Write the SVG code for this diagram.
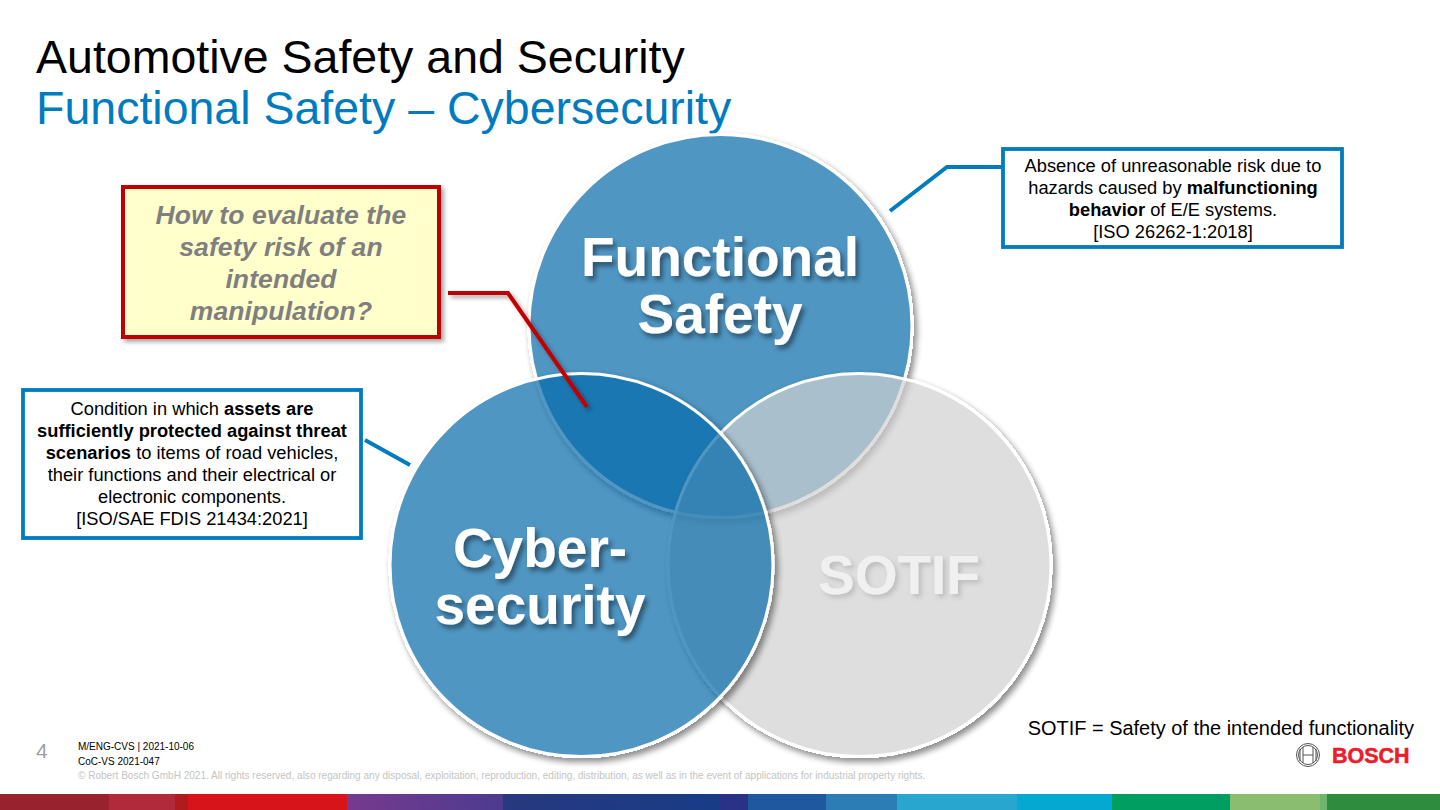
<svg xmlns="http://www.w3.org/2000/svg" width="1440" height="810" viewBox="0 0 1440 810">
<style>
text{font-family:"Liberation Sans",Arial,sans-serif}
.c{stroke:#fff;stroke-width:3;filter:url(#s)}
.big{font-size:55px;font-weight:700;fill:#fff;text-anchor:middle;filter:url(#ts)}
.box{fill:#fff;stroke:#007bc0;stroke-width:3.8}
.t{font-size:18.3px;fill:#000;text-anchor:middle}
.q{font-size:26.5px;font-weight:700;font-style:italic;fill:#7f7f7f;text-anchor:middle;letter-spacing:.1px}
.ft{font-size:10px;fill:#000}
</style>
<defs>
<filter id="s" x="-10%" y="-10%" width="120%" height="120%" color-interpolation-filters="sRGB">
<feComponentTransfer in="SourceAlpha" result="solid"><feFuncA type="linear" slope="100"/></feComponentTransfer>
<feGaussianBlur in="solid" stdDeviation="3" result="b"/>
<feOffset in="b" dx="3" dy="4" result="o"/>
<feComposite in="o" in2="solid" operator="out" result="outer"/>
<feComponentTransfer in="outer" result="sh"><feFuncA type="linear" slope=".45"/></feComponentTransfer>
<feMerge><feMergeNode in="sh"/><feMergeNode in="SourceGraphic"/></feMerge>
</filter>
<filter id="ts" x="-10%" y="-10%" width="120%" height="130%"><feDropShadow dx="3" dy="4" stdDeviation="2.5" flood-color="#000" flood-opacity=".45"/></filter>
<filter id="ts2" x="-10%" y="-10%" width="120%" height="130%"><feDropShadow dx="3" dy="3" stdDeviation="2.5" flood-color="#000" flood-opacity=".15"/></filter>
<filter id="bs" x="-10%" y="-10%" width="120%" height="120%"><feDropShadow dx="3" dy="3" stdDeviation="2" flood-color="#000" flood-opacity=".35"/></filter>
<linearGradient id="pg"><stop offset="0" stop-color="#763a8e"/><stop offset="1" stop-color="#4c3b90"/></linearGradient>
<linearGradient id="bg"><stop offset="0" stop-color="#27397f"/><stop offset="1" stop-color="#183c86"/></linearGradient>
</defs>
<text id="title1" x="36" y="73" font-size="46.5" fill="#000">Automotive Safety and Security</text>
<text id="title2" x="36" y="124" font-size="46.5" fill="#007bc0">Functional Safety – Cybersecurity</text>
<g id="circle-functional-safety"><circle class="c" cx="720.5" cy="326" r="191.5" fill="#046aa9" fill-opacity=".7"/></g>
<g id="circle-sotif"><circle class="c" cx="859.5" cy="565" r="191.5" fill="#d0d0d0" fill-opacity=".7"/></g>
<g id="circle-cybersecurity"><circle class="c" cx="581.5" cy="565" r="191.5" fill="#046aa9" fill-opacity=".7"/></g>
<g id="label-functional-safety"><text class="big" x="720" y="276">Functional</text><text class="big" x="720" y="333">Safety</text></g>
<g id="label-cybersecurity"><text class="big" x="540" y="567">Cyber-</text><text class="big" x="540" y="624">security</text></g>
<g id="label-sotif"><text class="big" x="899" y="594" style="fill:#f0f0f0;filter:url(#ts2)">SOTIF</text></g>
<g id="connectors" fill="none" stroke-width="4">
<path d="M890 211L947 167H1003" stroke="#007bc0"/>
<path d="M365 440L410 465" stroke="#007bc0"/>
<path d="M448 293H508L587 407" stroke="#c00000" filter="url(#bs)"/>
</g>
<g id="box-question"><rect x="123" y="187" width="316" height="150" fill="#ffffcc" stroke="#c00000" stroke-width="4" filter="url(#bs)"/>
<text class="q" x="281" y="224">How to evaluate the</text><text class="q" x="281" y="256">safety risk of an</text><text class="q" x="281" y="288">intended</text><text class="q" x="281" y="320">manipulation?</text></g>
<g id="box-fs-definition"><rect class="box" x="1003" y="149" width="339" height="98"/>
<text class="t" x="1173" y="172">Absence of unreasonable risk due to</text>
<text class="t" x="1173" y="194">hazards caused by <tspan font-weight="700">malfunctioning</tspan></text>
<text class="t" x="1173" y="216"><tspan font-weight="700">behavior</tspan> of E/E systems.</text>
<text class="t" x="1173" y="238">[ISO 26262-1:2018]</text></g>
<g id="box-cs-definition"><rect class="box" x="23" y="390" width="338" height="148"/>
<text class="t" x="192" y="415">Condition in which <tspan font-weight="700">assets are</tspan></text>
<text class="t" x="192" y="437" font-weight="700">sufficiently protected against threat</text>
<text class="t" x="192" y="459"><tspan font-weight="700">scenarios</tspan> to items of road vehicles,</text>
<text class="t" x="192" y="481">their functions and their electrical or</text>
<text class="t" x="192" y="503">electronic components.</text>
<text class="t" x="192" y="525">[ISO/SAE FDIS 21434:2021]</text></g>
<text id="sotif-note" x="1414" y="735" font-size="19.95" text-anchor="end" fill="#000">SOTIF = Safety of the intended functionality</text>
<g id="logo" fill="none" stroke="#555" stroke-width="1"><circle cx="1308" cy="755" r="11.5"/><circle cx="1308" cy="755" r="9.5"/><path d="M1303 747V763M1313 747V763M1303 755H1313M1300 749V761M1316 749V761"/>
<text x="1332" y="763" font-size="21.5" font-weight="700" fill="#ed1c2a" stroke="#ed1c2a" stroke-width=".5">BOSCH</text></g>
<g id="footer"><text x="36" y="758" font-size="21" fill="#9aa0a6">4</text>
<text class="ft" x="78" y="750">M/ENG-CVS | 2021-10-06</text>
<text class="ft" x="78" y="765">CoC-VS 2021-047</text>
<text x="78" y="779" font-size="10.05" fill="#c4c4c4">© Robert Bosch GmbH 2021. All rights reserved, also regarding any disposal, exploitation, reproduction, editing, distribution, as well as in the event of applications for industrial property rights.</text></g>
<g id="stripe">
<rect x="0" y="794" width="110" height="16" fill="#98232f"/><rect x="109" y="794" width="67" height="16" fill="#b12a3c"/><rect x="175" y="794" width="14" height="16" fill="#b01c1e"/><rect x="188" y="794" width="160" height="16" fill="#d7141a"/><rect x="347" y="794" width="157" height="16" fill="url(#pg)"/><rect x="503" y="794" width="218" height="16" fill="url(#bg)"/><rect x="720" y="794" width="29" height="16" fill="#2a3287"/><rect x="748" y="794" width="79" height="16" fill="#2058a0"/><rect x="826" y="794" width="72" height="16" fill="#2c7db5"/><rect x="897" y="794" width="121" height="16" fill="#29a6cf"/><rect x="1017" y="794" width="96" height="16" fill="#04a8d0"/><rect x="1112" y="794" width="119" height="16" fill="#009e60"/><rect x="1230" y="794" width="91" height="16" fill="#8abd70"/><rect x="1320" y="794" width="8" height="16" fill="#6fb570"/><rect x="1327" y="794" width="113" height="16" fill="#2d8c3e"/>
</g>
</svg>
